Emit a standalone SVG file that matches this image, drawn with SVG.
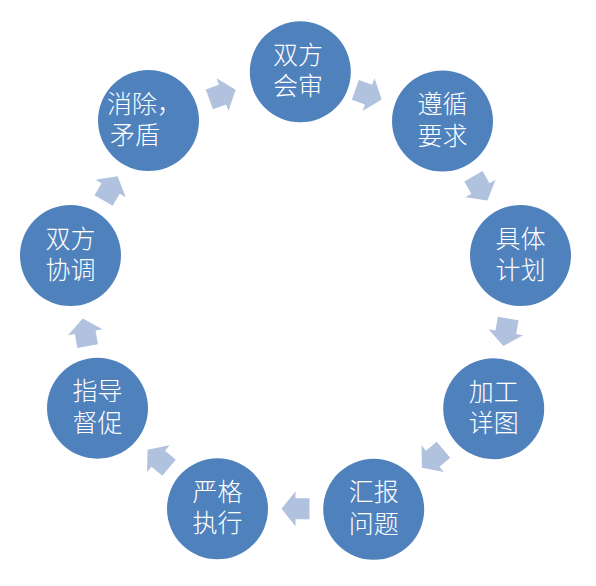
<svg xmlns="http://www.w3.org/2000/svg" width="596" height="586" viewBox="0 0 596 586">
  <defs>
    <style>
      .node circle { fill: #4f81bd; }
      .node text { fill: #ffffff; font-family: "Noto Sans CJK SC", "Noto Sans", sans-serif; font-size: 25px; font-weight: 300; text-anchor: middle; }
      .arrow { fill: #b0c2de; }
    </style>
    <polygon id="arr" points="-14,-10.5 0,-10.5 0,-17.5 14,0 0,17.5 0,10.5 -14,10.5"/>
  </defs>
  <rect width="596" height="586" fill="#ffffff"/>
  <g id="connectors" class="arrow">
    <use href="#arr" transform="translate(222.5,94.6) rotate(-20)"/>
    <use href="#arr" transform="translate(368.5,94.6) rotate(20)"/>
    <use href="#arr" transform="translate(480.4,188.4) rotate(60)"/>
    <use href="#arr" transform="translate(505.8,332.3) rotate(100)"/>
    <use href="#arr" transform="translate(432.7,458.7) rotate(140)"/>
    <use href="#arr" transform="translate(295.5,508.7) rotate(180)"/>
    <use href="#arr" transform="translate(158.3,458.7) rotate(220)"/>
    <use href="#arr" transform="translate(85.2,332.3) rotate(260)"/>
    <use href="#arr" transform="translate(110.6,188.4) rotate(300)"/>
  </g>
  <g id="node1" class="node">
    <circle cx="300.3" cy="71.8" r="50.5"/>
    <text><tspan x="298" y="63.8">双方</tspan><tspan x="298" y="95.3">会审</tspan></text>
  </g>
  <g id="node2" class="node">
    <circle cx="442.5" cy="121" r="50.5"/>
    <text><tspan x="442.5" y="113">遵循</tspan><tspan x="442.5" y="144.5">要求</tspan></text>
  </g>
  <g id="node3" class="node">
    <circle cx="520.5" cy="255.5" r="50.5"/>
    <text><tspan x="520.5" y="247.5">具体</tspan><tspan x="520.5" y="279">计划</tspan></text>
  </g>
  <g id="node4" class="node">
    <circle cx="493.7" cy="408.7" r="50.5"/>
    <text><tspan x="493.7" y="400.7">加工</tspan><tspan x="493.7" y="432.2">详图</tspan></text>
  </g>
  <g id="node5" class="node">
    <circle cx="373.7" cy="509.3" r="50.5"/>
    <text><tspan x="373.7" y="501.3">汇报</tspan><tspan x="373.7" y="532.8">问题</tspan></text>
  </g>
  <g id="node6" class="node">
    <circle cx="217.5" cy="508.8" r="50.5"/>
    <text><tspan x="217.5" y="500.8">严格</tspan><tspan x="217.5" y="532.3">执行</tspan></text>
  </g>
  <g id="node7" class="node">
    <circle cx="97.5" cy="408.2" r="50.5"/>
    <text><tspan x="97.5" y="400.2">指导</tspan><tspan x="97.5" y="431.7">督促</tspan></text>
  </g>
  <g id="node8" class="node">
    <circle cx="70.5" cy="255.5" r="50.5"/>
    <text><tspan x="70.5" y="247.5">双方</tspan><tspan x="70.5" y="279">协调</tspan></text>
  </g>
  <g id="node9" class="node">
    <circle cx="148.5" cy="120.5" r="50.5"/>
    <text style="text-anchor:start"><tspan x="107" y="112.5">消除，</tspan><tspan x="110" y="144">矛盾</tspan></text>
  </g>
</svg>
